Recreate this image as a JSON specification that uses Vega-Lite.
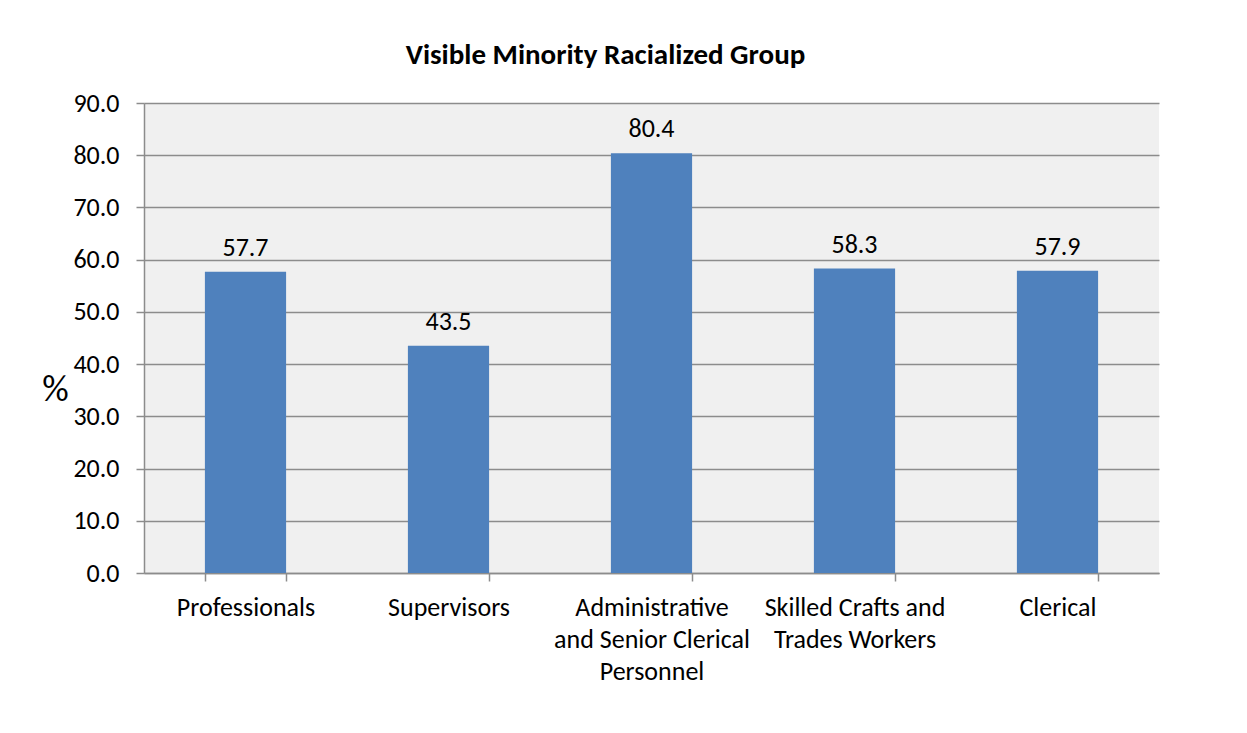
{
  "$schema": "https://vega.github.io/schema/vega-lite/v6.json",
  "width": 1015,
  "height": 470,
  "autosize": {"type": "none"},
  "padding": {"left": 144, "top": 103, "right": 88, "bottom": 160},
  "background": "white",
  "title": {
    "text": "Visible Minority Racialized Group",
    "font": "Carlito, Lato, sans-serif",
    "fontSize": 29,
    "fontWeight": "bold",
    "color": "black",
    "anchor": "middle",
    "frame": "group",
    "dx": -46,
    "offset": 20
  },
  "data": {
    "values": [
      {"group": "Professionals", "value": 57.7},
      {"group": "Supervisors", "value": 43.5},
      {"group": "Administrative and Senior Clerical Personnel", "value": 80.4},
      {"group": "Skilled Crafts and Trades Workers", "value": 58.3},
      {"group": "Clerical", "value": 57.9}
    ]
  },
  "encoding": {
    "x": {
      "field": "group",
      "type": "nominal",
      "sort": null,
      "scale": {"paddingInner": 0.6, "paddingOuter": 0.3},
      "axis": {
        "title": null,
        "labelAngle": 0,
        "tickBand": "extent",
        "tickSize": 8,
        "tickColor": "#8c8c8c",
        "tickWidth": 1.5,
        "domainColor": "#8c8c8c",
        "domainWidth": 1.5,
        "labelFont": "Carlito, Lato, sans-serif",
        "labelFontSize": 26,
        "labelColor": "black",
        "labelPadding": 13,
        "labelLineHeight": 32,
        "labelBaseline": "top",
        "labelLimit": 400,
        "labelExpr": "datum.value == 'Administrative and Senior Clerical Personnel' ? ['Administrative', 'and Senior Clerical', 'Personnel'] : datum.value == 'Skilled Crafts and Trades Workers' ? ['Skilled Crafts and', 'Trades Workers'] : datum.value"
      }
    },
    "y": {
      "field": "value",
      "type": "quantitative",
      "scale": {"domain": [0, 90], "nice": false},
      "axis": {
        "title": "%",
        "titleAngle": 0,
        "titleX": -89,
        "titleY": 305,
        "titleFont": "Carlito, Lato, sans-serif",
        "titleFontSize": 37,
        "titleFontWeight": "normal",
        "titleColor": "black",
        "values": [0, 10, 20, 30, 40, 50, 60, 70, 80, 90],
        "format": ".1f",
        "grid": true,
        "gridColor": "#8c8c8c",
        "gridWidth": 1.5,
        "tickSize": 8,
        "tickColor": "#8c8c8c",
        "tickWidth": 1.5,
        "domainColor": "#8c8c8c",
        "domainWidth": 1.5,
        "labelFont": "Carlito, Lato, sans-serif",
        "labelFontSize": 26,
        "labelColor": "black",
        "labelPadding": 17
      }
    }
  },
  "layer": [
    {"mark": {"type": "bar", "color": "#4f81bd"}},
    {
      "mark": {
        "type": "text",
        "baseline": "alphabetic",
        "dy": -16,
        "font": "Carlito, Lato, sans-serif",
        "fontSize": 26,
        "color": "black"
      },
      "encoding": {"text": {"field": "value", "type": "quantitative", "format": ".1f"}}
    }
  ],
  "config": {
    "view": {"fill": "#f0f0f0", "stroke": null}
  }
}
